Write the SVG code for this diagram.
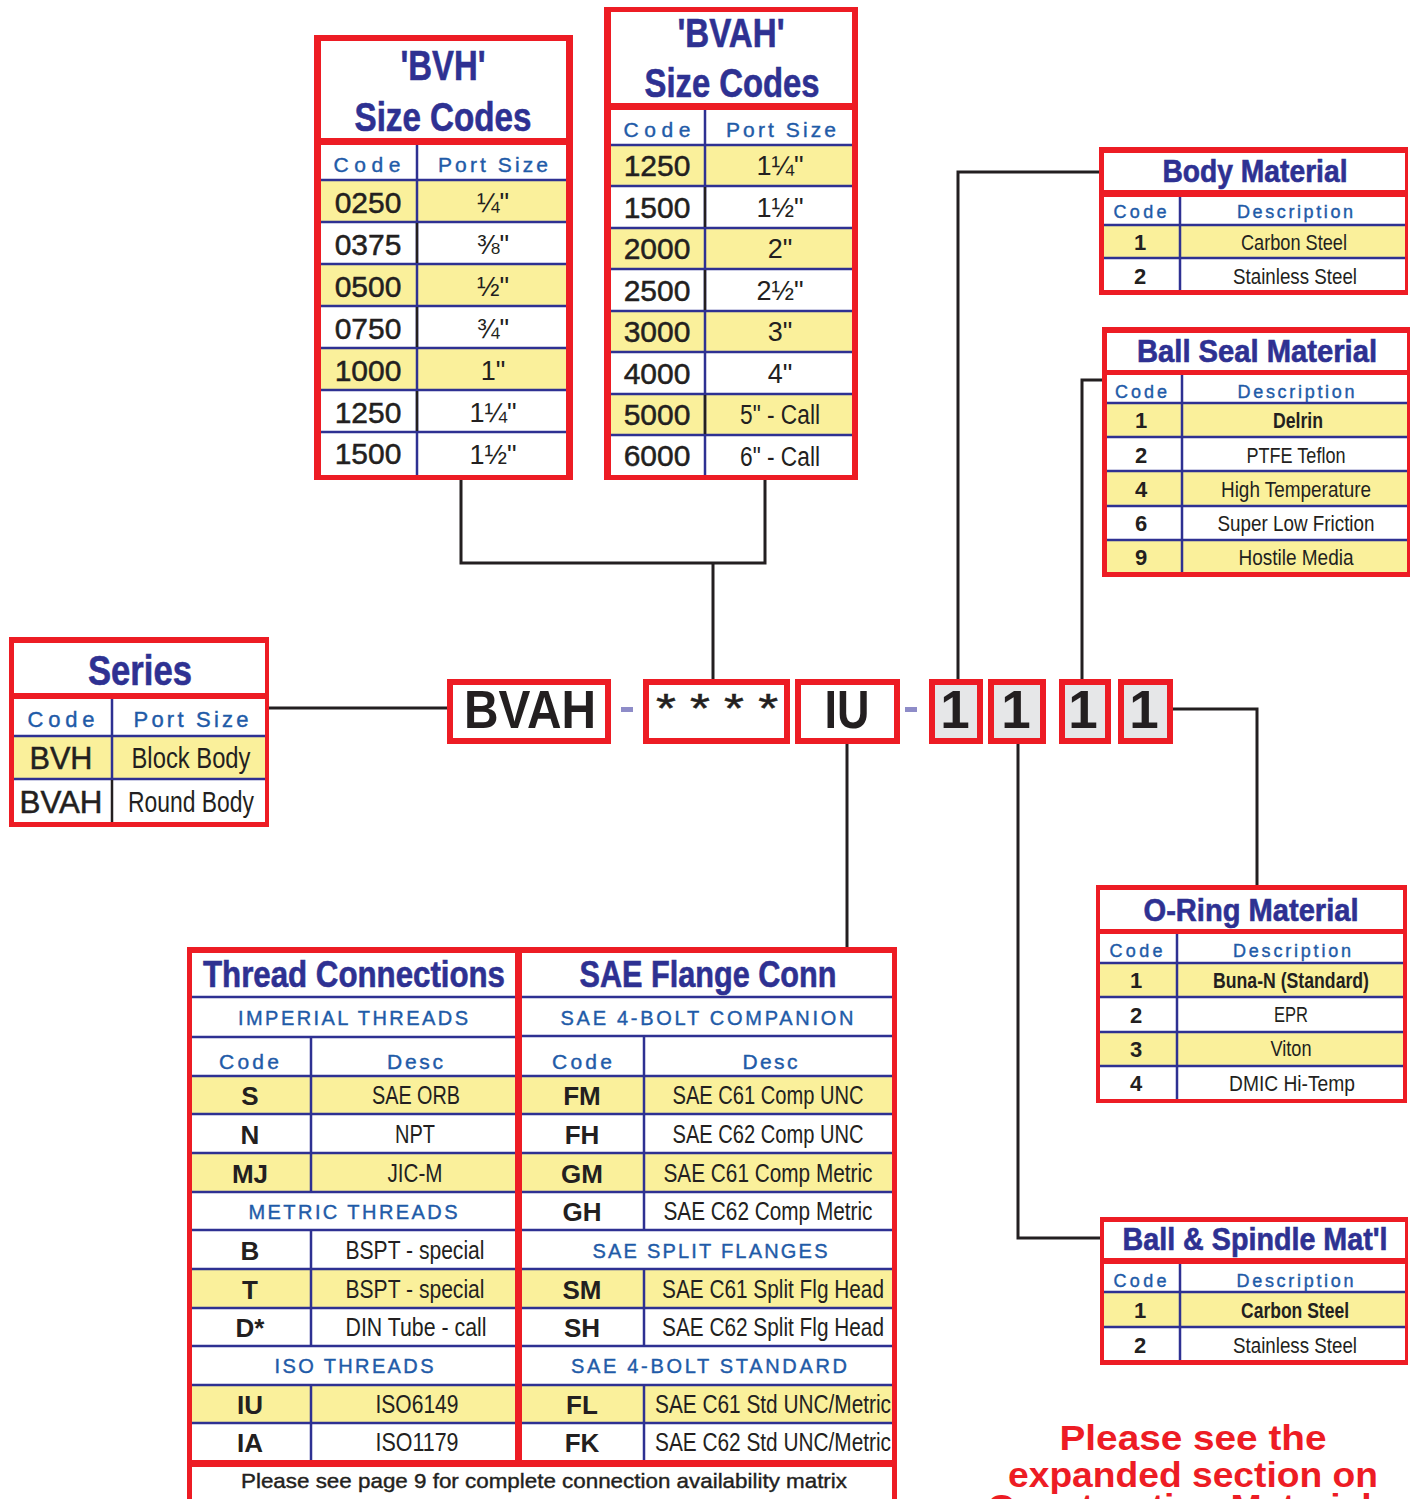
<svg xmlns="http://www.w3.org/2000/svg" width="1414" height="1499" viewBox="0 0 1414 1499">
<style>
.red{fill:#ed1c24}
.wh{fill:#fff}
.yl{fill:#faf09b}
.ln{stroke:#2e3192;stroke-width:2.5;fill:none}
.lk{stroke:#231f20;stroke-width:2.5;fill:none}
.ttl{font-family:"Liberation Sans Narrow","Liberation Sans",Arial,sans-serif;font-weight:bold;fill:#2e3192;stroke:#2e3192;stroke-width:0.6;text-anchor:middle}
.hd{font-family:"Liberation Sans",Arial,sans-serif;fill:#1f5ba8;stroke:#1f5ba8;stroke-width:0.4;text-anchor:middle}
.cd{font-family:"Liberation Sans",Arial,sans-serif;fill:#231f20;stroke:#231f20;stroke-width:0.5;text-anchor:middle}
.cb{font-family:"Liberation Sans",Arial,sans-serif;font-weight:bold;fill:#231f20;text-anchor:middle}
.ds{font-family:"Liberation Sans Narrow","Liberation Sans",Arial,sans-serif;fill:#231f20;text-anchor:middle}
.dsb{font-family:"Liberation Sans Narrow","Liberation Sans",Arial,sans-serif;font-weight:bold;fill:#231f20;text-anchor:middle}
.conn{stroke:#231f20;stroke-width:3;fill:none}
.box{fill:#fff;stroke:#ed1c24;stroke-width:6}
.gbox{fill:#e6e7e8;stroke:#ed1c24;stroke-width:6}
.big{font-family:"Liberation Sans",Arial,sans-serif;font-weight:bold;fill:#231f20;text-anchor:middle;font-size:53px}
.dash{fill:#8e8cc8}
.note{font-family:"Liberation Sans",Arial,sans-serif;font-weight:bold;fill:#ed1c24;text-anchor:middle;font-size:35px}
</style>

<g id="connectors">
  <path class="conn" d="M269 708 H447"/>
  <path class="conn" d="M461 480 V563 H765 V480"/>
  <path class="conn" d="M713 563 V679"/>
  <path class="conn" d="M1099 172 H958 V679"/>
  <path class="conn" d="M1102 380 H1082 V679"/>
  <path class="conn" d="M1173 709 H1257 V885"/>
  <path class="conn" d="M1018 744 V1238 H1100"/>
  <path class="conn" d="M847 744 V947"/>
</g>

<g id="bvh-size-codes">
  <rect class="red" x="314" y="35" width="259" height="445"/>
  <rect class="wh" x="321" y="41" width="245" height="97"/>
  <rect class="wh" x="321" y="145" width="245" height="330"/>
  <rect class="yl" x="321" y="180" width="245" height="42"/>
  <rect class="yl" x="321" y="264" width="245" height="42"/>
  <rect class="yl" x="321" y="348" width="245" height="42"/>
  <path class="ln" d="M321 180H566M321 222H566M321 264H566M321 306H566M321 348H566M321 390H566M321 432H566M417 145V475"/>
  <path class="lk" d="M417 223V263M417 307V347M417 391V431"/>
  <text class="ttl" x="443" y="80" font-size="42" textLength="85" lengthAdjust="spacingAndGlyphs">'BVH'</text>
  <text class="ttl" x="443" y="131" font-size="40" textLength="177" lengthAdjust="spacingAndGlyphs">Size Codes</text>
  <text class="hd" x="367" y="172" font-size="21" textLength="67">Code</text>
  <text class="hd" x="493" y="172" font-size="21" textLength="110">Port Size</text>
  <g font-size="30">
    <text class="cd" x="368" y="213">0250</text>
    <text class="cd" x="368" y="255">0375</text>
    <text class="cd" x="368" y="297">0500</text>
    <text class="cd" x="368" y="339">0750</text>
    <text class="cd" x="368" y="381">1000</text>
    <text class="cd" x="368" y="423">1250</text>
    <text class="cd" x="368" y="464">1500</text>
  </g>
  <g font-size="27">
    <text class="ds" x="493" y="212">¼"</text>
    <text class="ds" x="493" y="254">⅜"</text>
    <text class="ds" x="493" y="296">½"</text>
    <text class="ds" x="493" y="338">¾"</text>
    <text class="ds" x="493" y="380">1"</text>
    <text class="ds" x="493" y="422">1¼"</text>
    <text class="ds" x="493" y="464">1½"</text>
  </g>
</g>

<g id="bvah-size-codes">
  <rect class="red" x="604" y="7" width="254" height="473"/>
  <rect class="wh" x="611" y="12" width="241" height="91"/>
  <rect class="wh" x="611" y="110" width="241" height="365"/>
  <rect class="yl" x="611" y="145" width="241" height="41"/>
  <rect class="yl" x="611" y="228" width="241" height="41"/>
  <rect class="yl" x="611" y="311" width="241" height="41"/>
  <rect class="yl" x="611" y="394" width="241" height="41"/>
  <path class="ln" d="M611 145H852M611 186H852M611 228H852M611 269H852M611 311H852M611 352H852M611 394H852M611 435H852M705 110V475"/>
  <path class="lk" d="M705 187V227M705 270V310M705 395V434"/>
  <text class="ttl" x="731" y="47" font-size="40" textLength="107" lengthAdjust="spacingAndGlyphs">'BVAH'</text>
  <text class="ttl" x="732" y="97" font-size="40" textLength="175" lengthAdjust="spacingAndGlyphs">Size Codes</text>
  <text class="hd" x="657" y="137" font-size="21" textLength="67">Code</text>
  <text class="hd" x="781" y="137" font-size="21" textLength="110">Port Size</text>
  <g font-size="30">
    <text class="cd" x="657" y="176">1250</text>
    <text class="cd" x="657" y="218">1500</text>
    <text class="cd" x="657" y="259">2000</text>
    <text class="cd" x="657" y="301">2500</text>
    <text class="cd" x="657" y="342">3000</text>
    <text class="cd" x="657" y="384">4000</text>
    <text class="cd" x="657" y="425">5000</text>
    <text class="cd" x="657" y="466">6000</text>
  </g>
  <g font-size="27">
    <text class="ds" x="780" y="175">1¼"</text>
    <text class="ds" x="780" y="217">1½"</text>
    <text class="ds" x="780" y="258">2"</text>
    <text class="ds" x="780" y="300">2½"</text>
    <text class="ds" x="780" y="341">3"</text>
    <text class="ds" x="780" y="383">4"</text>
    <text class="ds" x="780" y="424" textLength="80" lengthAdjust="spacingAndGlyphs">5" - Call</text>
    <text class="ds" x="780" y="466" textLength="80" lengthAdjust="spacingAndGlyphs">6" - Call</text>
  </g>
</g>

<g id="series">
  <rect class="red" x="9" y="637" width="260" height="190"/>
  <rect class="wh" x="14" y="643" width="251" height="50"/>
  <rect class="wh" x="14" y="699" width="251" height="123"/>
  <rect class="yl" x="14" y="736" width="251" height="43"/>
  <path class="ln" d="M14 736H265M14 779H265M112 699V779"/>
  <path class="lk" d="M112 780V822"/>
  <text class="ttl" x="140" y="685" font-size="42" textLength="104" lengthAdjust="spacingAndGlyphs">Series</text>
  <text class="hd" x="61" y="727" font-size="22" textLength="67">Code</text>
  <text class="hd" x="191" y="727" font-size="22" textLength="115">Port Size</text>
  <text class="cd" x="61" y="769" font-size="31" textLength="63" lengthAdjust="spacingAndGlyphs">BVH</text>
  <text class="cd" x="61" y="813" font-size="31" textLength="83" lengthAdjust="spacingAndGlyphs">BVAH</text>
  <text class="ds" x="191" y="768" font-size="29" textLength="119" lengthAdjust="spacingAndGlyphs">Block Body</text>
  <text class="ds" x="191" y="812" font-size="29" textLength="126" lengthAdjust="spacingAndGlyphs">Round Body</text>
</g>

<g id="part-code">
  <rect class="box" x="450" y="682" width="158" height="59"/>
  <text class="big" x="530" y="728" textLength="132" lengthAdjust="spacingAndGlyphs">BVAH</text>
  <rect class="dash" x="621" y="707" width="12" height="5"/>
  <rect class="box" x="646" y="682" width="141" height="59"/>
  <text class="cd" x="717" y="722" font-size="40" textLength="122" lengthAdjust="spacingAndGlyphs">* * * *</text>
  <rect class="box" x="798" y="682" width="99" height="59"/>
  <text class="big" x="847" y="728" textLength="45" lengthAdjust="spacingAndGlyphs">IU</text>
  <rect class="dash" x="905" y="707" width="12" height="5"/>
  <rect class="gbox" x="932" y="682" width="48" height="59"/>
  <rect class="gbox" x="991" y="682" width="52" height="59"/>
  <rect class="gbox" x="1062" y="682" width="46" height="59"/>
  <rect class="gbox" x="1121" y="682" width="49" height="59"/>
  <text class="big" x="955" y="728">1</text>
  <text class="big" x="1016" y="728">1</text>
  <text class="big" x="1083" y="728">1</text>
  <text class="big" x="1144" y="728">1</text>
</g>

<g id="body-material">
  <rect class="red" x="1099" y="147" width="309" height="148"/>
  <rect class="wh" x="1104" y="153" width="301" height="37"/>
  <rect class="wh" x="1104" y="197" width="301" height="93"/>
  <rect class="yl" x="1104" y="225" width="301" height="33"/>
  <path class="ln" d="M1104 225H1405M1104 258H1405M1180 197V290"/>
  <text class="ttl" x="1255" y="182" font-size="31" textLength="185" lengthAdjust="spacingAndGlyphs">Body Material</text>
  <text class="hd" x="1140" y="218" font-size="18" textLength="53">Code</text>
  <text class="hd" x="1295" y="218" font-size="18" textLength="116">Description</text>
  <text class="cb" x="1140" y="250" font-size="22">1</text>
  <text class="cb" x="1140" y="284" font-size="22">2</text>
  <text class="ds" x="1294" y="250" font-size="22" textLength="106" lengthAdjust="spacingAndGlyphs">Carbon Steel</text>
  <text class="ds" x="1295" y="284" font-size="22" textLength="124" lengthAdjust="spacingAndGlyphs">Stainless Steel</text>
</g>

<g id="ball-seal-material">
  <rect class="red" x="1102" y="327" width="308" height="250"/>
  <rect class="wh" x="1107" y="333" width="300" height="37"/>
  <rect class="wh" x="1107" y="375" width="300" height="197"/>
  <rect class="yl" x="1107" y="403" width="300" height="34"/>
  <rect class="yl" x="1107" y="471" width="300" height="35"/>
  <rect class="yl" x="1107" y="540" width="300" height="32"/>
  <path class="ln" d="M1107 403H1407M1107 437H1407M1107 471H1407M1107 506H1407M1107 540H1407M1182 375V572"/>
  <text class="ttl" x="1257" y="362" font-size="31" textLength="240" lengthAdjust="spacingAndGlyphs">Ball Seal Material</text>
  <text class="hd" x="1141" y="398" font-size="18" textLength="52">Code</text>
  <text class="hd" x="1296" y="398" font-size="18" textLength="117">Description</text>
  <text class="cb" x="1141" y="428" font-size="22">1</text>
  <text class="cb" x="1141" y="463" font-size="22">2</text>
  <text class="cb" x="1141" y="497" font-size="22">4</text>
  <text class="cb" x="1141" y="531" font-size="22">6</text>
  <text class="cb" x="1141" y="565" font-size="22">9</text>
  <text class="dsb" x="1298" y="428" font-size="22" textLength="50" lengthAdjust="spacingAndGlyphs">Delrin</text>
  <text class="ds" x="1296" y="463" font-size="22" textLength="99" lengthAdjust="spacingAndGlyphs">PTFE Teflon</text>
  <text class="ds" x="1296" y="497" font-size="22" textLength="150" lengthAdjust="spacingAndGlyphs">High Temperature</text>
  <text class="ds" x="1296" y="531" font-size="22" textLength="157" lengthAdjust="spacingAndGlyphs">Super Low Friction</text>
  <text class="ds" x="1296" y="565" font-size="22" textLength="115" lengthAdjust="spacingAndGlyphs">Hostile Media</text>
</g>

<g id="o-ring-material">
  <rect class="red" x="1096" y="885" width="311" height="218"/>
  <rect class="wh" x="1100" y="890" width="303" height="39"/>
  <rect class="wh" x="1100" y="934" width="303" height="165"/>
  <rect class="yl" x="1100" y="963" width="303" height="34"/>
  <rect class="yl" x="1100" y="1032" width="303" height="34"/>
  <path class="ln" d="M1100 963H1403M1100 997H1403M1100 1032H1403M1100 1066H1403M1177 934V1099"/>
  <text class="ttl" x="1251" y="921" font-size="31" textLength="215" lengthAdjust="spacingAndGlyphs">O-Ring Material</text>
  <text class="hd" x="1136" y="957" font-size="18" textLength="53">Code</text>
  <text class="hd" x="1292" y="957" font-size="18" textLength="118">Description</text>
  <text class="cb" x="1136" y="988" font-size="22">1</text>
  <text class="cb" x="1136" y="1023" font-size="22">2</text>
  <text class="cb" x="1136" y="1057" font-size="22">3</text>
  <text class="cb" x="1136" y="1091" font-size="22">4</text>
  <text class="dsb" x="1291" y="988" font-size="22" textLength="156" lengthAdjust="spacingAndGlyphs">Buna-N (Standard)</text>
  <text class="ds" x="1291" y="1022" font-size="22" textLength="34" lengthAdjust="spacingAndGlyphs">EPR</text>
  <text class="ds" x="1291" y="1056" font-size="22" textLength="41" lengthAdjust="spacingAndGlyphs">Viton</text>
  <text class="ds" x="1292" y="1091" font-size="22" textLength="126" lengthAdjust="spacingAndGlyphs">DMIC Hi-Temp</text>
</g>

<g id="ball-spindle-material">
  <rect class="red" x="1100" y="1217" width="308" height="148"/>
  <rect class="wh" x="1104" y="1222" width="301" height="36"/>
  <rect class="wh" x="1104" y="1264" width="301" height="96"/>
  <rect class="yl" x="1104" y="1292" width="301" height="35"/>
  <path class="ln" d="M1104 1292H1405M1104 1327H1405M1180 1264V1360"/>
  <text class="ttl" x="1255" y="1250" font-size="31" textLength="265" lengthAdjust="spacingAndGlyphs">Ball &amp; Spindle Mat'l</text>
  <text class="hd" x="1140" y="1287" font-size="18" textLength="53">Code</text>
  <text class="hd" x="1295" y="1287" font-size="18" textLength="117">Description</text>
  <text class="cb" x="1140" y="1318" font-size="22">1</text>
  <text class="cb" x="1140" y="1353" font-size="22">2</text>
  <text class="dsb" x="1295" y="1318" font-size="22" textLength="108" lengthAdjust="spacingAndGlyphs">Carbon Steel</text>
  <text class="ds" x="1295" y="1353" font-size="22" textLength="124" lengthAdjust="spacingAndGlyphs">Stainless Steel</text>
</g>

<g id="connections">
  <rect class="red" x="187" y="947" width="710" height="570"/>
  <rect class="wh" x="192" y="953" width="323" height="507"/>
  <rect class="wh" x="522" y="953" width="370" height="507"/>
  <rect class="wh" x="192" y="1467" width="700" height="50"/>
  <g id="thread-connections">
    <rect class="yl" x="192" y="1076" width="323" height="38"/>
    <rect class="yl" x="192" y="1153" width="323" height="39"/>
    <rect class="yl" x="192" y="1269" width="323" height="39"/>
    <rect class="yl" x="192" y="1385" width="323" height="38"/>
    <path class="ln" d="M192 997H515M192 1037H515M192 1076H515M192 1114H515M192 1153H515M192 1192H515M192 1230H515M192 1269H515M192 1308H515M192 1346H515M192 1385H515M192 1423H515M311 1037V1192M311 1230V1346M311 1385V1460"/>
    <text class="ttl" x="354" y="987" font-size="36" textLength="302" lengthAdjust="spacingAndGlyphs">Thread Connections</text>
    <text class="hd" x="353" y="1025" font-size="20" textLength="230">IMPERIAL THREADS</text>
    <text class="hd" x="249" y="1069" font-size="21" textLength="60">Code</text>
    <text class="hd" x="415" y="1069" font-size="21" textLength="56">Desc</text>
    <text class="hd" x="353" y="1219" font-size="20" textLength="209">METRIC THREADS</text>
    <text class="hd" x="354" y="1373" font-size="20" textLength="159">ISO THREADS</text>
    <g font-size="26">
      <text class="cb" x="250" y="1105">S</text>
      <text class="cb" x="250" y="1144">N</text>
      <text class="cb" x="250" y="1183">MJ</text>
      <text class="cb" x="250" y="1260">B</text>
      <text class="cb" x="250" y="1299">T</text>
      <text class="cb" x="250" y="1337">D*</text>
      <text class="cb" x="250" y="1414">IU</text>
      <text class="cb" x="250" y="1452">IA</text>
      <text class="ds" x="416" y="1104" textLength="88" lengthAdjust="spacingAndGlyphs">SAE ORB</text>
      <text class="ds" x="415" y="1143" textLength="40" lengthAdjust="spacingAndGlyphs">NPT</text>
      <text class="ds" x="415" y="1182" textLength="55" lengthAdjust="spacingAndGlyphs">JIC-M</text>
      <text class="ds" x="415" y="1259" textLength="139" lengthAdjust="spacingAndGlyphs">BSPT - special</text>
      <text class="ds" x="415" y="1298" textLength="139" lengthAdjust="spacingAndGlyphs">BSPT - special</text>
      <text class="ds" x="416" y="1336" textLength="141" lengthAdjust="spacingAndGlyphs">DIN Tube - call</text>
      <text class="ds" x="417" y="1413" textLength="83" lengthAdjust="spacingAndGlyphs">ISO6149</text>
      <text class="ds" x="417" y="1451" textLength="83" lengthAdjust="spacingAndGlyphs">ISO1179</text>
    </g>
  </g>
  <g id="sae-flange-conn">
    <rect class="yl" x="522" y="1076" width="370" height="38"/>
    <rect class="yl" x="522" y="1153" width="370" height="39"/>
    <rect class="yl" x="522" y="1269" width="370" height="39"/>
    <rect class="yl" x="522" y="1385" width="370" height="38"/>
    <path class="ln" d="M522 997H892M522 1036H892M522 1076H892M522 1114H892M522 1153H892M522 1192H892M522 1230H892M522 1269H892M522 1308H892M522 1346H892M522 1385H892M522 1423H892M644 1036V1230M644 1269V1346M644 1385V1460"/>
    <text class="ttl" x="708" y="987" font-size="36" textLength="257" lengthAdjust="spacingAndGlyphs">SAE Flange Conn</text>
    <text class="hd" x="707" y="1025" font-size="20" textLength="293">SAE 4-BOLT COMPANION</text>
    <text class="hd" x="582" y="1069" font-size="21" textLength="60">Code</text>
    <text class="hd" x="770" y="1069" font-size="21" textLength="55">Desc</text>
    <text class="hd" x="710" y="1258" font-size="20" textLength="235">SAE SPLIT FLANGES</text>
    <text class="hd" x="709" y="1373" font-size="20" textLength="276">SAE 4-BOLT STANDARD</text>
    <g font-size="26">
      <text class="cb" x="582" y="1105">FM</text>
      <text class="cb" x="582" y="1144">FH</text>
      <text class="cb" x="582" y="1183">GM</text>
      <text class="cb" x="582" y="1221">GH</text>
      <text class="cb" x="582" y="1299">SM</text>
      <text class="cb" x="582" y="1337">SH</text>
      <text class="cb" x="582" y="1414">FL</text>
      <text class="cb" x="582" y="1452">FK</text>
      <text class="ds" x="768" y="1104" textLength="191" lengthAdjust="spacingAndGlyphs">SAE C61 Comp UNC</text>
      <text class="ds" x="768" y="1143" textLength="191" lengthAdjust="spacingAndGlyphs">SAE C62 Comp UNC</text>
      <text class="ds" x="768" y="1182" textLength="209" lengthAdjust="spacingAndGlyphs">SAE C61 Comp Metric</text>
      <text class="ds" x="768" y="1220" textLength="209" lengthAdjust="spacingAndGlyphs">SAE C62 Comp Metric</text>
      <text class="ds" x="773" y="1298" textLength="222" lengthAdjust="spacingAndGlyphs">SAE C61 Split Flg Head</text>
      <text class="ds" x="773" y="1336" textLength="222" lengthAdjust="spacingAndGlyphs">SAE C62 Split Flg Head</text>
      <text class="ds" x="773" y="1413" textLength="236" lengthAdjust="spacingAndGlyphs">SAE C61 Std UNC/Metric</text>
      <text class="ds" x="773" y="1451" textLength="236" lengthAdjust="spacingAndGlyphs">SAE C62 Std UNC/Metric</text>
    </g>
  </g>
  <text class="ds" x="544" y="1488" font-size="21" stroke="#231f20" stroke-width="0.4" textLength="606" lengthAdjust="spacingAndGlyphs">Please see page 9 for complete connection availability matrix</text>
</g>

<g id="note">
  <text class="note" x="1193" y="1450" textLength="267" lengthAdjust="spacingAndGlyphs">Please see the</text>
  <text class="note" x="1193" y="1487" textLength="370" lengthAdjust="spacingAndGlyphs">expanded section on</text>
  <text class="note" x="1190" y="1519" textLength="405" lengthAdjust="spacingAndGlyphs">Construction Materials</text>
</g>
</svg>
